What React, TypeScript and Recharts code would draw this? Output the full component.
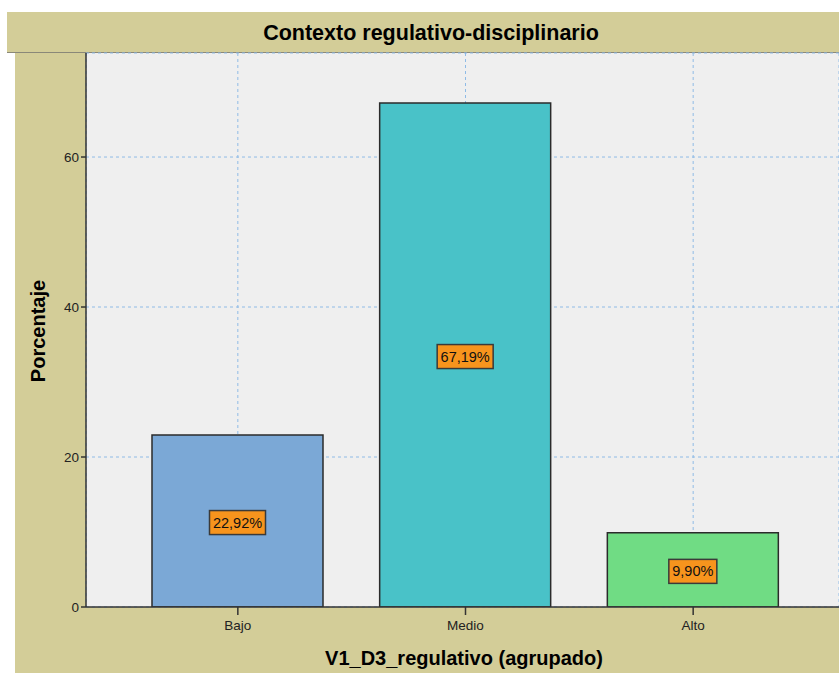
import React from 'react';
import { BarChart, Bar, XAxis, YAxis, CartesianGrid, Cell, LabelList } from 'recharts';

const categories = ['Bajo', 'Medio', 'Alto'];
const percentages = [22.92, 67.19, 9.9];
const barColors = ['#7ba8d6', '#49c2c8', '#70dc84'];
const yTicks = [0, 20, 40, 60];
const title = 'Contexto regulativo-disciplinario';
const xTitle = 'V1_D3_regulativo (agrupado)';
const yTitle = 'Porcentaje';

const data = categories.map((c, i) => ({ name: c, value: percentages[i] }));

const FONT = '"Liberation Sans", Arial, sans-serif';
const TAN = '#d3cd98';

const fmt = (v: number) => v.toFixed(2).replace('.', ',') + '%';

const textWidth = (s: string, fs: number) => {
  let w = 0;
  for (const ch of s) {
    if (ch === ',') w += 0.278;
    else if (ch === '%') w += 0.889;
    else w += 0.556;
  }
  return w * fs;
};

const ValueBox = (props: any) => {
  const { x, y, width, height, value } = props;
  const cx = x + width / 2;
  const cy = y + height / 2 + 1.5;
  const label = fmt(value);
  const fs = 14.5;
  const w = Math.round(textWidth(label, fs) + 7);
  const h = 24;
  return (
    <g>
      <rect x={cx - w / 2} y={cy - h / 2} width={w} height={h} fill="#f7941d" stroke="#3a3a3a" strokeWidth={1.5} />
      <text x={cx} y={cy + 5} textAnchor="middle" fontSize={fs} fontFamily={FONT} fill="#111">
        {label}
      </text>
    </g>
  );
};

const YLabel = () => (
  <text
    x={38}
    y={319}
    transform="rotate(-90 38 319)"
    textAnchor="middle"
    fontSize={20}
    fontWeight="bold"
    fontFamily={FONT}
    fill="#000"
  >
    {yTitle}
  </text>
);

const XLabel = () => (
  <text x={457} y={653} textAnchor="middle" fontSize={20} fontWeight="bold" fontFamily={FONT} fill="#000">
    {xTitle}
  </text>
);

export default function App() {
  return (
    <div style={{ position: 'absolute', left: 7, top: 12, width: 832, height: 661, background: TAN }}>
      <div style={{ position: 'absolute', left: 0, top: 41, width: 8, height: 620, background: '#ffffff' }} />
      <div
        style={{
          position: 'absolute',
          left: 0,
          top: 0,
          width: 832,
          height: 40,
          borderBottom: '1px solid #8a8878',
          boxSizing: 'content-box',
        }}
      >
        <div
          style={{
            position: 'absolute',
            left: 224,
            top: 8,
            width: 400,
            textAlign: 'center',
            fontFamily: FONT,
            fontWeight: 'bold',
            fontSize: 21.5,
            lineHeight: '26px',
            color: '#000',
            whiteSpace: 'nowrap',
          }}
        >
          {title}
        </div>
      </div>
      <div style={{ position: 'absolute', left: 0, top: 0 }}>
        <BarChart width={832} height={661} data={data} margin={{ top: 41, right: 0, bottom: 0, left: 0 }}>
          <CartesianGrid fill="#efefef" stroke="#8fbbe6" strokeDasharray="3 3" horizontal vertical />
          <XAxis
            dataKey="name"
            padding={{ left: 38, right: 32 }}
            tickSize={8}
            tickLine={{ stroke: '#333', strokeWidth: 1.5 }}
            axisLine={{ stroke: '#333', strokeWidth: 1.5 }}
            tick={{ fill: '#222', fontSize: 13.5, fontFamily: FONT }}
            tickMargin={5}
            height={66}
            label={<XLabel />}
          />
          <YAxis
            width={79}
            domain={[0, 73.87]}
            ticks={yTicks}
            tickSize={5}
            tickLine={{ stroke: '#333', strokeWidth: 1.5 }}
            axisLine={{ stroke: '#333', strokeWidth: 1.5 }}
            tick={{ fill: '#222', fontSize: 13.5, fontFamily: FONT }}
            tickMargin={2}
            allowDataOverflow
            label={<YLabel />}
          />
          <Bar dataKey="value" barSize={171} stroke="#2b2b2b" strokeWidth={1.5} isAnimationActive={false}>
            {data.map((d, i) => (
              <Cell key={d.name} fill={barColors[i]} />
            ))}
            <LabelList dataKey="value" content={<ValueBox />} />
          </Bar>
        </BarChart>
      </div>
    </div>
  );
}
